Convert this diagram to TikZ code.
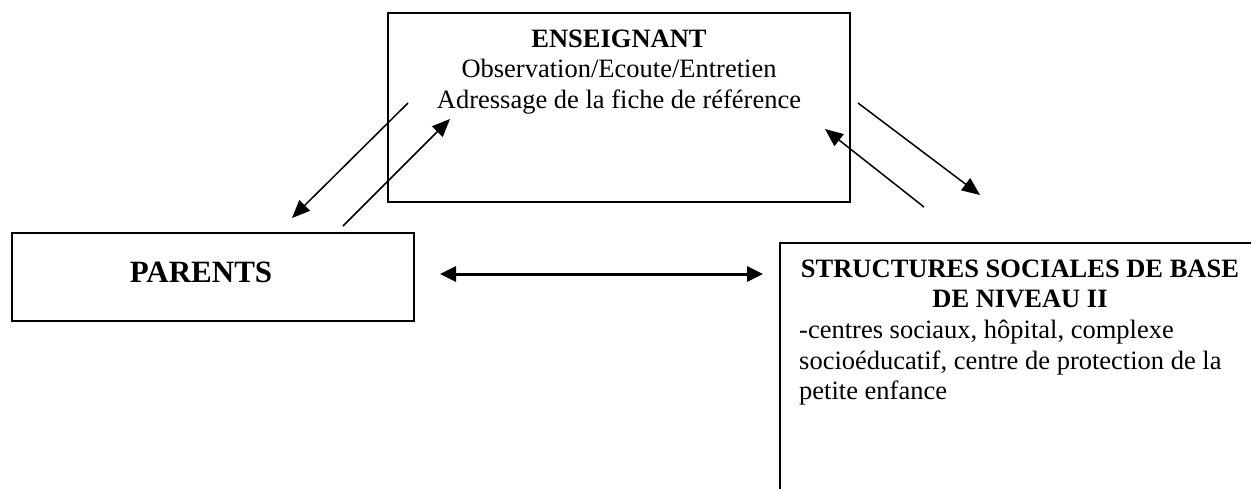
\documentclass[tikz,border=0pt]{standalone}
\usepackage{fontspec}
\setmainfont{Liberation Serif}
\usetikzlibrary{arrows.meta}
\begin{document}
\begin{tikzpicture}[x=1pt,y=-1pt,
  box/.style={draw,line width=1.8pt,inner sep=0pt},
  txt/.style={font=\fontsize{26.5}{30.5}\selectfont,inner sep=0pt},
  btxt/.style={font=\fontsize{26.5}{30.5}\selectfont\bfseries,inner sep=0pt},
  arr/.style={line width=1.5pt,-{Triangle[length=18pt,width=15pt]}},
  darr/.style={line width=3pt,{Triangle[length=16pt,width=15pt]}-{Triangle[length=16pt,width=15pt]}},
]
\useasboundingbox (0,0) rectangle (1251,488);
\clip (0,0) rectangle (1251,488);
% boxes
\node[box,minimum width=462pt,minimum height=189pt] (ens) at (619,107.5) {};
\node[box,minimum width=402pt,minimum height=88pt] (par) at (213,277) {};
\node[box,minimum width=500pt,minimum height=280pt] (ssb) at (1030,383) {};
% texts
\node[btxt,anchor=base] (ens1) at (619,47) {ENSEIGNANT};
\node[txt,anchor=base] (ens2) at (619,77) {Observation/Ecoute/Entretien};
\node[txt,anchor=base] (ens3) at (619,108) {Adressage de la fiche de référence};
\node[inner sep=0pt,anchor=base,font=\fontsize{31}{35}\selectfont\bfseries] (part) at (201,282) {PARENTS};
\node[btxt,anchor=base] (ssb1) at (1020,277) {STRUCTURES SOCIALES DE BASE};
\node[btxt,anchor=base] (ssb2) at (1020,307) {DE NIVEAU II};
\node[txt,anchor=base west] (ssb3) at (799,338) {-centres sociaux, hôpital, complexe};
\node[txt,anchor=base west] (ssb4) at (799,369) {socioéducatif, centre de protection de la};
\node[txt,anchor=base west] (ssb5) at (799,399) {petite enfance};
% arrow end points
\coordinate (a1s) at (408,103); \coordinate (a1e) at (292,218);
\coordinate (a2s) at (343,226); \coordinate (a2e) at (450,119);
\coordinate (a3s) at (858,103); \coordinate (a3e) at (980,195);
\coordinate (a4s) at (924,207); \coordinate (a4e) at (825,129);
\coordinate (hs) at (440,274); \coordinate (he) at (763,274);
\draw[arr] (a1s) -- (a1e);
\draw[arr] (a2s) -- (a2e);
\draw[arr] (a3s) -- (a3e);
\draw[arr] (a4s) -- (a4e);
\draw[darr] (hs) -- (he);
\end{tikzpicture}
\end{document}
